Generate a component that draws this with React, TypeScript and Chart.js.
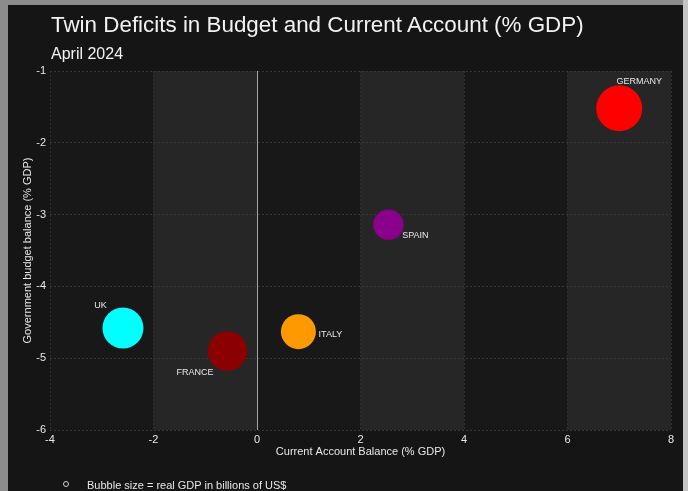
import { useEffect, useRef } from 'react';
import Chart from 'chart.js/auto';

// ---- data ----
const countries = ['GERMANY', 'SPAIN', 'ITALY', 'UK', 'FRANCE'];
const currentAccount = [7.0, 2.54, 0.8, -2.59, -0.57];
const budgetBalance = [-1.52, -3.14, -4.63, -4.58, -4.9];
const realGdp = [4460, 1580, 2250, 3340, 3030];
const xTicks = [-4, -2, 0, 2, 4, 6, 8];
const yTicks = [-6, -5, -4, -3, -2, -1];
const shadedBands = [[-2, 0], [2, 4], [6, 8]];

// ---- styles ----
const bubbleColors = ['#ff0000', '#8b008b', '#ff9900', '#00ffff', '#8b0000'];
const labelOffsets = [[20, -27], [27, 10.5], [32, 2.5], [-22.5, -22.5], [-32.5, 21]];
const FONT = '"Liberation Sans", Arial, Helvetica, sans-serif';
const TEXT = '#e8e8e8';
const MAX_R = 23;
const maxGdp = Math.max(...realGdp);
const radiusFor = (g: number) => MAX_R * Math.pow(g / maxGdp, 0.4);

const bandsPlugin = {
  id: 'bands',
  beforeDraw(chart: any) {
    const { ctx, chartArea: a, scales } = chart;
    ctx.save();
    ctx.fillStyle = '#181818';
    ctx.fillRect(a.left, a.top, a.right - a.left, a.bottom - a.top);
    ctx.fillStyle = '#262626';
    shadedBands.forEach(([s, e]) => {
      const x1 = scales.x.getPixelForValue(s);
      const x2 = scales.x.getPixelForValue(e);
      ctx.fillRect(x1, a.top, x2 - x1, a.bottom - a.top);
    });
    ctx.restore();
  },
};

const labelsPlugin = {
  id: 'bubbleLabels',
  afterDatasetsDraw(chart: any) {
    const { ctx } = chart;
    const meta = chart.getDatasetMeta(0);
    ctx.save();
    ctx.font = `9px ${FONT}`;
    ctx.fillStyle = TEXT;
    ctx.textAlign = 'center';
    ctx.textBaseline = 'middle';
    meta.data.forEach((pt: any, i: number) => {
      const [dx, dy] = labelOffsets[i];
      ctx.fillText(countries[i], pt.x + dx, pt.y + dy);
    });
    ctx.restore();
  },
};

export default function App() {
  const ref = useRef<HTMLCanvasElement>(null);
  useEffect(() => {
    if (!ref.current) return;
    const chart = new Chart(ref.current, {
      type: 'bubble',
      data: {
        datasets: [
          {
            label: 'Countries',
            data: countries.map((_, i) => ({
              x: currentAccount[i],
              y: budgetBalance[i],
              r: radiusFor(realGdp[i]),
            })),
            backgroundColor: bubbleColors,
            borderWidth: 0,
          },
        ],
      },
      options: {
        responsive: false,
        animation: false,
        events: [],
        layout: { autoPadding: false, padding: { top: 66, right: 12, bottom: 21, left: 0 } },
        plugins: { legend: { display: false }, tooltip: { enabled: false } },
        scales: {
          x: {
            type: 'linear',
            min: -4,
            max: 8,
            afterBuildTicks: (s: any) => { s.ticks = xTicks.map((v) => ({ value: v })); },
            afterFit: (s: any) => { s.height = 40; },
            grid: {
              drawTicks: false,
              color: (c: any) => (c.tick && c.tick.value === 0 ? '#a6a6a6' : '#303030'),
              lineWidth: 1,
            },
            border: { display: false, dash: (c: any) => (c.tick && c.tick.value === 0 ? [] : [2, 2]) },
            ticks: { color: TEXT, padding: 3, font: { family: FONT, size: 11 } },
            title: {
              display: true,
              text: 'Current Account Balance (% GDP)',
              color: TEXT,
              font: { family: FONT, size: 11 },
              padding: { top: 0, bottom: 11 },
            },
          },
          y: {
            type: 'linear',
            min: -6,
            max: -1,
            afterBuildTicks: (s: any) => { s.ticks = yTicks.map((v) => ({ value: v })); },
            afterFit: (s: any) => { s.width = 42; },
            grid: { drawTicks: false, color: '#363636', lineWidth: 1 },
            border: { display: false, dash: [2, 2] },
            ticks: { color: TEXT, padding: 4, font: { family: FONT, size: 11 } },
            title: {
              display: true,
              text: 'Government budget balance (% GDP)',
              color: TEXT,
              font: { family: FONT, size: 11 },
              padding: { top: 13, bottom: 0 },
            },
          },
        },
      } as any,
      plugins: [bandsPlugin, labelsPlugin],
    });
    return () => chart.destroy();
  }, []);

  return (
    <div style={{ position: 'fixed', left: 0, top: 0, width: 688, height: 491, background: '#8c8c8c', overflow: 'hidden' }}>
      <div style={{ position: 'absolute', left: 683, top: 0, width: 5, height: 491, background: '#c4c4c4' }} />
      <div style={{ position: 'absolute', left: 8, top: 5, width: 675, height: 486, background: '#151515', fontFamily: FONT, color: TEXT }}>
        <canvas ref={ref} width={675} height={486} style={{ position: 'absolute', left: 0, top: 0, width: 675, height: 486 }} />
        <div style={{ position: 'absolute', left: 43, top: 8.6, fontSize: 22.4, lineHeight: '22px', whiteSpace: 'nowrap', color: '#f2f2f2' }}>
          Twin Deficits in Budget and Current Account (% GDP)
        </div>
        <div style={{ position: 'absolute', left: 43, top: 41, fontSize: 16, lineHeight: '16px', whiteSpace: 'nowrap', color: '#f2f2f2' }}>
          April 2024
        </div>
        <div style={{ position: 'absolute', left: 55, top: 475.5, width: 4, height: 4, border: '1px solid #d0d0d0', borderRadius: '50%' }} />
        <div style={{ position: 'absolute', left: 79, top: 474.7, fontSize: 11, lineHeight: '11px', whiteSpace: 'nowrap' }}>
          Bubble size = real GDP in billions of US$
        </div>
      </div>
    </div>
  );
}
